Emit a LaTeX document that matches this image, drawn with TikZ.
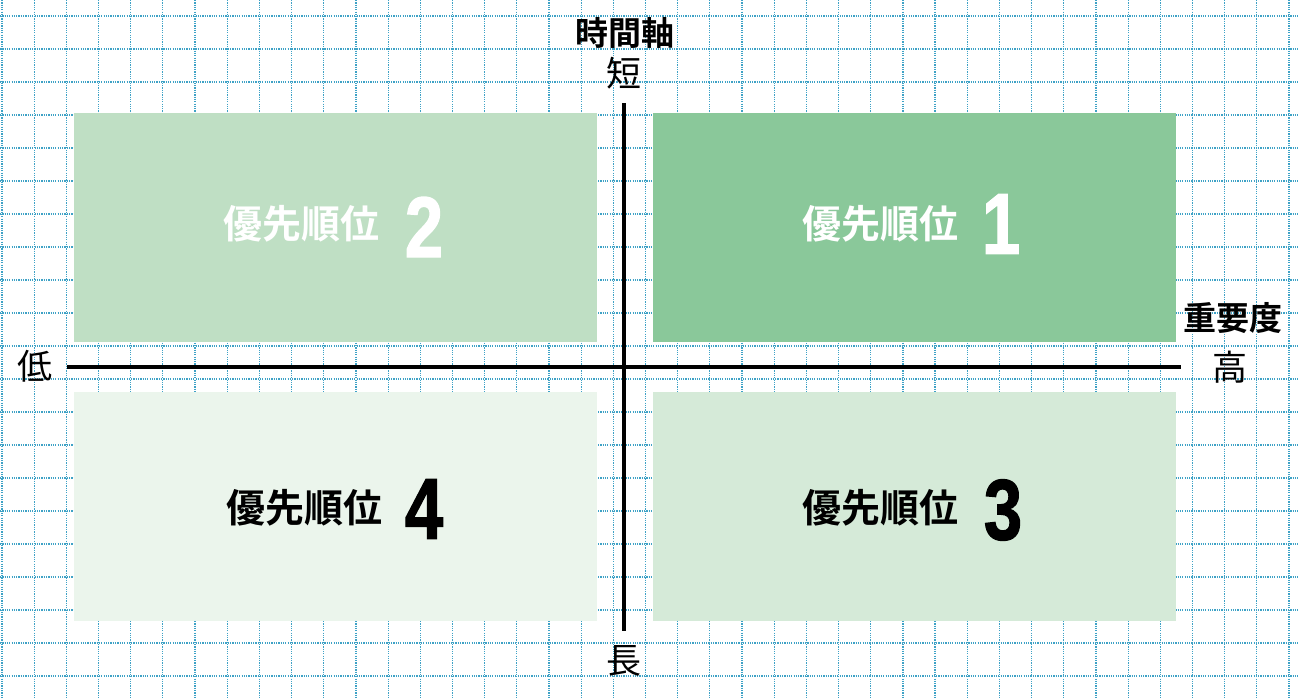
\documentclass[tikz,border=0pt]{standalone}
\usepackage{fontspec}
\setmainfont{Noto Sans CJK JP}
\newfontfamily\jpreg{Noto Sans CJK JP}
\newfontfamily\jpbold{Noto Sans CJK JP Bold}
\newfontfamily\numfont[FakeBold=1.6]{Liberation Sans Bold}
\definecolor{gridc}{RGB}{62,162,198}
\definecolor{cone}{RGB}{138,200,154}
\definecolor{ctwo}{RGB}{191,223,196}
\definecolor{cthree}{RGB}{213,234,216}
\definecolor{cfour}{RGB}{235,245,236}
\tikzset{
  gridline/.style={draw=gridc, line width=1.2pt, dash pattern=on 1.2pt off 1.1pt},
  quad/.style={draw=none, inner sep=0pt, minimum width=523pt, minimum height=229pt},
  axisline/.style={draw=black, line width=3.5pt},
  axlabel/.style={inner sep=0pt, font=\jpreg\fontsize{35}{35}\selectfont},
  axtitle/.style={inner sep=0pt, font=\jpbold\fontsize{33}{33}\selectfont},
  prio/.style={inner sep=0pt, font=\jpbold\fontsize{39}{39}\selectfont},
  prionum/.style={inner sep=0pt, font=\numfont\fontsize{86}{86}\selectfont},
}
\begin{document}
\begin{tikzpicture}[x=1pt,y=-1pt]
\useasboundingbox (0,0) rectangle (1299,699);
\fill[white] (0,0) rectangle (1299,699);
% grid
\foreach \k in {0,...,40} \draw[gridline] ({2+32.175*\k},0) -- ({2+32.175*\k},699);
\foreach \k in {0,...,20} \draw[gridline] (0,{16+33*\k}) -- (1299,{16+33*\k});
% quadrants
\node[quad, fill=ctwo]   (q2) at (335.5,227.5) {};
\node[quad, fill=cone]   (q1) at (914.5,227.5) {};
\node[quad, fill=cfour]  (q4) at (335.5,506.5) {};
\node[quad, fill=cthree] (q3) at (914.5,506.5) {};
% quadrant texts
\node[prio, text=white] (t2) at (301,224) {優先順位};
\node[prionum, text=white] (n2) at (424,227) {\scalebox{0.8}[1]{2}};
\node[prio, text=white] (t1) at (880,224) {優先順位};
\node[prionum, text=white] (n1) at (1001,224) {\scalebox{0.8}[1]{1}};
\node[prio, text=black] (t4) at (304,508) {優先順位};
\node[prionum, text=black] (n4) at (424,509) {\scalebox{0.8}[1]{4}};
\node[prio, text=black] (t3) at (880,508) {優先順位};
\node[prionum, text=black] (n3) at (1003,510) {\scalebox{0.8}[1]{3}};
% axes
\coordinate (hl) at (67,367);
\coordinate (hr) at (1181,367);
\coordinate (vt) at (624,103);
\coordinate (vb) at (624,631);
\draw[axisline] (hl) -- (hr);
\draw[axisline] (vt) -- (vb);
% axis labels
\node[axtitle] (tt) at (625,33) {時間軸};
\node[axlabel] (short) at (624,73) {短};
\node[axlabel] (long) at (624,661) {長};
\node[axlabel] (low) at (35,366) {低};
\node[axlabel] (high) at (1230,367) {高};
\node[axtitle] (imp) at (1233,318) {重要度};
\end{tikzpicture}
\end{document}
